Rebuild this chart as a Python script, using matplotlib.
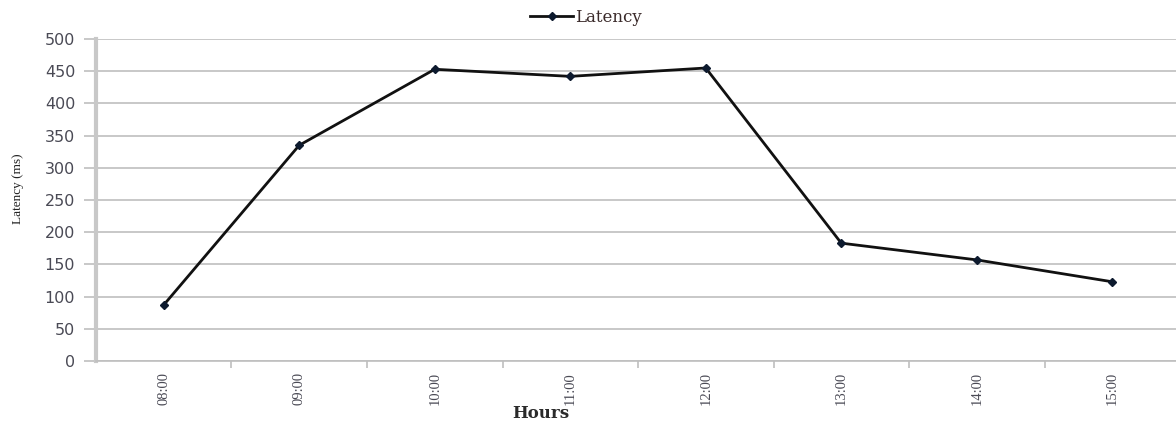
import matplotlib
matplotlib.use("Agg")
import matplotlib.pyplot as plt
from matplotlib.lines import Line2D

# latency per hour of the day
hours = ["08:00", "09:00", "10:00", "11:00", "12:00", "13:00", "14:00", "15:00"]
latency_ms = [87, 335, 453, 442, 455, 183, 157, 123]
y_ticks = [0, 50, 100, 150, 200, 250, 300, 350, 400, 450, 500]

GRID = "#BFBFBF"
TEXT = "#4a4a55"

fig = plt.figure(figsize=(11.76, 4.25), dpi=100)
ax = fig.add_axes([0.0816, 0.1506, 0.9184, 0.7576])

x = list(range(len(hours)))
ax.plot(x, latency_ms, color="#111111", linewidth=2.0, marker="D",
        markersize=4, markerfacecolor="#0d1a2e", markeredgecolor="#0d1a2e",
        zorder=3)

ax.set_xlim(-0.5, len(hours) - 0.53)
ax.set_ylim(0, 500)
ax.set_yticks(y_ticks)
ax.set_yticklabels([str(v) for v in y_ticks], fontsize=11.5, color=TEXT,
                   family="DejaVu Sans")
ax.yaxis.grid(True, color=GRID, linewidth=1.2)
ax.set_axisbelow(True)

ax.set_xticks(x)
ax.set_xticklabels(hours, rotation=90, fontsize=10.5, color=TEXT,
                   family="Liberation Serif")
ax.tick_params(axis="x", length=0, pad=8)
# category boundary ticks
ax.set_xticks([i + 0.5 for i in x[:-1]], minor=True)
ax.tick_params(axis="x", which="minor", length=5, width=1.2, color=GRID)
ax.tick_params(axis="y", length=9, width=1.2, color=GRID, pad=6)

for side in ("top", "right"):
    ax.spines[side].set_visible(False)
ax.spines["left"].set_color("#C8C8C8")
ax.spines["left"].set_linewidth(3)
ax.spines["bottom"].set_color(GRID)
ax.spines["bottom"].set_linewidth(1.2)

fig.text(18 / 1176, 1 - 189 / 425, "Latency (ms)", rotation=90, ha="center",
         va="center", fontsize=9.5, family="Liberation Serif", color="#222222")
fig.text(541 / 1176, 1 - 414 / 425, "Hours", ha="center", va="center",
         fontsize=12, fontweight="bold", family="DejaVu Serif",
         color="#2a2a2a")

handle = Line2D([], [], color="#111111", linewidth=2.0, marker="D",
                markersize=4, markerfacecolor="#0d1a2e",
                markeredgecolor="#0d1a2e")
fig.legend([handle], ["Latency"], loc="center", bbox_to_anchor=(586 / 1176, 1 - 17 / 425),
           frameon=False, handlelength=2.6, handletextpad=0.1,
           prop={"family": "DejaVu Serif", "size": 12},
           labelcolor="#3a2a2a")

fig.savefig("out.png", dpi=100, facecolor="white")
